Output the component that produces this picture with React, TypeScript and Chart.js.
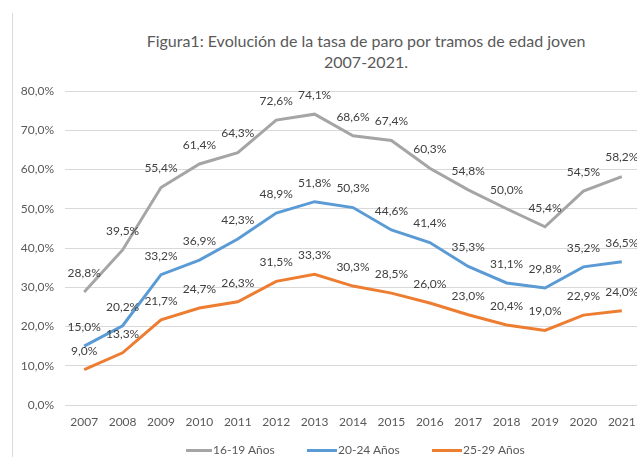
import React, { useEffect, useRef } from "react";
import { Chart, registerables } from "chart.js";

Chart.register(...registerables);

const years = ["2007", "2008", "2009", "2010", "2011", "2012", "2013", "2014", "2015", "2016", "2017", "2018", "2019", "2020", "2021"];
const age1619 = [28.8, 39.5, 55.4, 61.4, 64.3, 72.6, 74.1, 68.6, 67.4, 60.3, 54.8, 50.0, 45.4, 54.5, 58.2];
const age2024 = [15.0, 20.2, 33.2, 36.9, 42.3, 48.9, 51.8, 50.3, 44.6, 41.4, 35.3, 31.1, 29.8, 35.2, 36.5];
const age2529 = [9.0, 13.3, 21.7, 24.7, 26.3, 31.5, 33.3, 30.3, 28.5, 26.0, 23.0, 20.4, 19.0, 22.9, 24.0];
const seriesNames = ["16-19 Años", "20-24 Años", "25-29 Años"];
const seriesColors = ["#A5A5A5", "#5B9BD5", "#ED7D31"];
const titleLines = ["Figura1: Evolución de la tasa de paro por tramos de edad joven", "2007-2021."];

const FONT = "Lato, 'Liberation Sans', sans-serif";
const fmt = (v: number) => v.toFixed(1).replace(".", ",") + "%";

const labelPlugin = {
  id: "pointLabels",
  afterDatasetsDraw(chart: any) {
    const ctx = chart.ctx;
    ctx.save();
    ctx.font = `12px ${FONT}`;
    ctx.fillStyle = "#404040";
    ctx.textAlign = "center";
    ctx.textBaseline = "middle";
    chart.data.datasets.forEach((ds: any, i: number) => {
      const meta = chart.getDatasetMeta(i);
      meta.data.forEach((pt: any, j: number) => {
        ctx.fillText(fmt(ds.data[j]), pt.x, pt.y - 19);
      });
    });
    ctx.restore();
  },
};

export default function App() {
  const ref = useRef<HTMLCanvasElement>(null);
  useEffect(() => {
    if (!ref.current) return;
    const data = [age1619, age2024, age2529];
    const chart = new Chart(ref.current, {
      type: "line",
      data: {
        labels: years,
        datasets: data.map((d, i) => ({
          label: seriesNames[i],
          data: d,
          borderColor: seriesColors[i],
          backgroundColor: seriesColors[i],
          borderWidth: 3,
          pointRadius: 0,
          tension: 0,
        })),
      },
      options: {
        animation: false,
        responsive: false,
        devicePixelRatio: 1,
        layout: { padding: { top: 91, left: 10, right: 19, bottom: 35 } },
        plugins: { legend: { display: false }, title: { display: false }, tooltip: { enabled: false } },
        scales: {
          x: {
            offset: true,
            grid: { display: false, drawTicks: false },
            border: { display: true, color: "#D9D9D9" },
            ticks: { color: "#595959", font: { family: FONT, size: 12 }, padding: 10 },
            afterFit: (s: any) => { s.height = 30; },
          },
          y: {
            min: 0,
            max: 80,
            ticks: { stepSize: 10, color: "#595959", font: { family: FONT, size: 12 }, padding: 11, callback: (v: any) => fmt(Number(v)) },
            grid: { color: "#D9D9D9", drawTicks: false },
            border: { display: false },
            afterFit: (s: any) => { s.width = 55; },
          },
        },
      },
      plugins: [labelPlugin],
    });
    return () => chart.destroy();
  }, []);

  const legendItems = [
    { x: 186, tx: 213 },
    { x: 307, tx: 338 },
    { x: 432, tx: 463 },
  ];

  return (
    <div style={{ position: "fixed", left: 0, top: 0, width: 637, height: 457, overflow: "hidden", background: "#fff", fontFamily: FONT }}>
      <div style={{ position: "absolute", left: 12, top: 13, width: 1, height: 460, background: "#D9D9D9" }} />
      <div style={{ position: "absolute", left: 0, top: 30, width: 732, textAlign: "center", color: "#595959", fontSize: 16, lineHeight: "21px" }}>
        {titleLines.map((t, i) => (<div key={i}>{t}</div>))}
      </div>
      <canvas ref={ref} width={660} height={470} style={{ position: "absolute", left: 0, top: 0, width: 660, height: 470 }} />
      {legendItems.map((it, i) => (
        <React.Fragment key={i}>
          <div style={{ position: "absolute", left: it.x, top: 449, width: it.tx - it.x - 1, height: 3, background: seriesColors[i] }} />
          <div style={{ position: "absolute", left: it.tx, top: 442, color: "#595959", fontSize: 12, lineHeight: "16px", whiteSpace: "nowrap" }}>{seriesNames[i]}</div>
        </React.Fragment>
      ))}
    </div>
  );
}
